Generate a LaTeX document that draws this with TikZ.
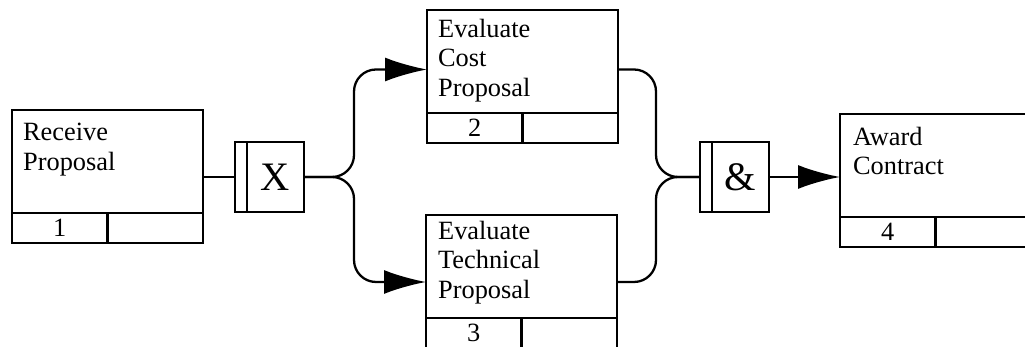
\documentclass[tikz,border=0pt]{standalone}
\usepackage{fontspec}
\setmainfont{Liberation Serif}
\usetikzlibrary{arrows.meta, positioning, calc}

\begin{document}
\begin{tikzpicture}[
  line width=1.3pt,
  act/.style={draw, minimum width=3.82cm, minimum height=2.06cm,
              inner sep=0pt, outer sep=0pt},
  cell/.style={draw, minimum width=1.91cm, minimum height=0.60cm,
               inner sep=0pt, outer sep=0pt, font=\fontsize{15}{16.8}\selectfont},
  lbl/.style={align=left, inner sep=0pt, font=\fontsize{15}{16.8}\selectfont},
  bar/.style={draw, minimum width=0.24cm, minimum height=1.40cm,
              inner sep=0pt, outer sep=0pt},
  gate/.style={draw, minimum width=1.14cm, minimum height=1.40cm,
               inner sep=0pt, outer sep=0pt, font=\fontsize{23}{26}\selectfont},
  flow/.style={-{Latex[length=0.84cm, width=0.48cm]}},
  link/.style={rounded corners=0.44cm},
]

\path[use as bounding box, clip] (0,0) rectangle (20.5,6.94);

% ---- Activities ------------------------------------------------------------
\node[act, anchor=north west] (p1) at (0.24, 4.74) {};
\node[lbl, anchor=north west] (p1t) at (0.44, 4.50) {Receive\\Proposal};
\node[cell, anchor=north west] (p1n) at (p1.south west) {1};
\node[cell, anchor=north west] (p1e) at (p1n.north east) {};

\node[act, anchor=north west] (p2) at (8.54, 6.74) {};
\node[lbl, anchor=north west] (p2t) at (8.74, 6.58) {Evaluate\\Cost\\Proposal};
\node[cell, anchor=north west] (p2n) at (p2.south west) {2};
\node[cell, anchor=north west] (p2e) at (p2n.north east) {};

\node[act, anchor=north west] (p3) at (8.52, 2.64) {};
\node[lbl, anchor=north west] (p3t) at (8.74, 2.54) {Evaluate\\Technical\\Proposal};
\node[cell, anchor=north west] (p3n) at (p3.south west) {3};
\node[cell, anchor=north west] (p3e) at (p3n.north east) {};

\node[act, anchor=north west] (p4) at (16.80, 4.66) {};
\node[lbl, anchor=north west] (p4t) at (17.04, 4.42) {Award\\Contract};
\node[cell, anchor=north west] (p4n) at (p4.south west) {4};
\node[cell, anchor=north west] (p4e) at (p4n.north east) {};

% ---- Junctions -------------------------------------------------------------
\node[bar, anchor=north west] (gXb) at (4.70, 4.10) {};
\node[gate, anchor=west] (gX) at (gXb.east) {X};

\node[bar, anchor=north west] (gAb) at (14.00, 4.10) {};
\node[gate, anchor=west] (gA) at (gAb.east) {\&};

\coordinate (split) at (7.08, 3.40);
\coordinate (merge) at (13.12, 3.40);

% ---- Links -----------------------------------------------------------------
\draw (p1.east |- gXb.west) -- (gXb.west);
\draw[flow, link] (gX.east) -- (split) |- ($(p2.west)+(0,-0.16)$);
\draw[flow, link] (gX.east) -- (split) |- ($(p3.west)+(0,-0.31)$);
\draw[link] ($(p2.east)+(0,-0.16)$) -| (merge) -- (gAb.west);
\draw[link] ($(p3.east)+(0,-0.31)$) -| (merge) -- (gAb.west);
\draw[flow] (gA.east) -- (p4.west |- gA.east);

\end{tikzpicture}
\end{document}
